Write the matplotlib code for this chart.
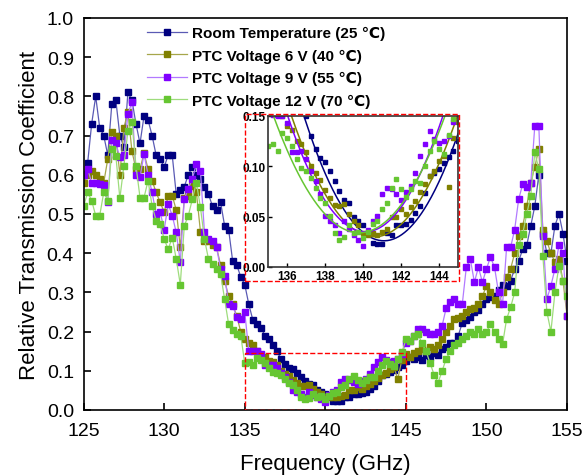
import numpy as np
import matplotlib.pyplot as plt
from matplotlib.patches import Rectangle

plt.rcParams['font.family'] = ['Liberation Sans', 'DejaVu Sans']

# frequency grid (GHz), 0.25 GHz step
freq = np.linspace(125, 155, 121)

room = [0.60, 0.63, 0.73, 0.80, 0.72, 0.70, 0.65, 0.78, 0.79, 0.70,
        0.67, 0.81, 0.79, 0.73, 0.68, 0.75, 0.74, 0.70, 0.65, 0.64,
        0.62, 0.65, 0.65, 0.55, 0.56, 0.57, 0.60, 0.62, 0.60, 0.59,
        0.57, 0.55, 0.52, 0.51, 0.53, 0.47, 0.46, 0.38, 0.37, 0.34,
        0.32, 0.27, 0.23, 0.22, 0.21, 0.19, 0.18, 0.165, 0.15, 0.13,
        0.117, 0.108, 0.104, 0.095, 0.085, 0.075, 0.067, 0.064, 0.05, 0.046,
        0.042, 0.035, 0.024, 0.023, 0.023, 0.034, 0.032, 0.042, 0.042, 0.043,
        0.047, 0.054, 0.061, 0.073, 0.09, 0.093, 0.097, 0.103, 0.109, 0.115,
        0.125, 0.134, 0.13, 0.135, 0.128, 0.14, 0.135, 0.145, 0.14, 0.155,
        0.16, 0.172, 0.17, 0.19, 0.222, 0.23, 0.237, 0.25, 0.255, 0.27,
        0.283, 0.288, 0.29, 0.305, 0.32, 0.317, 0.33, 0.36, 0.38, 0.41,
        0.42, 0.47, 0.52, 0.60, 0.45, 0.40, 0.40, 0.47, 0.50, 0.45,
        0.38]

ptc6 = [0.58, 0.60, 0.61, 0.60, 0.59, 0.58, 0.64, 0.71, 0.70, 0.60,
        0.72, 0.76, 0.66, 0.615, 0.615, 0.655, 0.615, 0.585, 0.555, 0.53,
        0.505, 0.545, 0.547, 0.51, 0.415, 0.54, 0.547, 0.572, 0.555, 0.455,
        0.43, 0.43, 0.42, 0.415, 0.37, 0.33, 0.29, 0.27, 0.24, 0.20,
        0.18, 0.172, 0.165, 0.15, 0.14, 0.136, 0.125, 0.122, 0.114, 0.10,
        0.093, 0.086, 0.076, 0.069, 0.062, 0.061, 0.0625, 0.053, 0.046, 0.042,
        0.034, 0.032, 0.034, 0.032, 0.035, 0.038, 0.05, 0.05, 0.058, 0.053,
        0.06, 0.066, 0.074, 0.082, 0.09, 0.095, 0.105, 0.11, 0.079, 0.128,
        0.144, 0.135, 0.145, 0.15, 0.156, 0.15, 0.16, 0.155, 0.165, 0.18,
        0.20, 0.215, 0.232, 0.235, 0.24, 0.25, 0.258, 0.26, 0.27, 0.29,
        0.317, 0.30, 0.28, 0.27, 0.30, 0.34, 0.36, 0.40, 0.445, 0.47,
        0.52, 0.58, 0.62, 0.666, 0.46, 0.43, 0.40, 0.377, 0.385, 0.33,
        0.24]

ptc9 = [0.60, 0.615, 0.58, 0.58, 0.577, 0.575, 0.53, 0.69, 0.68, 0.645,
        0.65, 0.755, 0.785, 0.60, 0.594, 0.653, 0.60, 0.555, 0.50, 0.505,
        0.46, 0.525, 0.496, 0.453, 0.377, 0.538, 0.565, 0.59, 0.628, 0.61,
        0.453, 0.436, 0.432, 0.415, 0.36, 0.343, 0.27, 0.266, 0.237, 0.232,
        0.25, 0.151, 0.15, 0.15, 0.143, 0.114, 0.114, 0.115, 0.107, 0.095,
        0.085, 0.072, 0.051, 0.046, 0.042, 0.034, 0.046, 0.038, 0.032, 0.027,
        0.021, 0.037, 0.046, 0.051, 0.072, 0.078, 0.077, 0.072, 0.067, 0.074,
        0.08, 0.093, 0.11, 0.122, 0.135, 0.127, 0.123, 0.125, 0.13, 0.144,
        0.17, 0.175, 0.19, 0.207, 0.207, 0.20, 0.195, 0.194, 0.20, 0.215,
        0.26, 0.275, 0.283, 0.27, 0.27, 0.364, 0.385, 0.326, 0.364, 0.326,
        0.36, 0.39, 0.364, 0.30, 0.27, 0.415, 0.415, 0.46, 0.538, 0.576,
        0.57, 0.58, 0.725, 0.725, 0.445, 0.283, 0.317, 0.36, 0.42, 0.40,
        0.24]

ptc12 = [0.52, 0.555, 0.534, 0.496, 0.496, 0.555, 0.534, 0.666, 0.649, 0.54,
         0.623, 0.712, 0.734, 0.623, 0.542, 0.542, 0.585, 0.521, 0.483, 0.474,
         0.436, 0.41, 0.44, 0.385, 0.32, 0.47, 0.496, 0.538, 0.58, 0.517,
         0.436, 0.385, 0.372, 0.36, 0.347, 0.283, 0.219, 0.205, 0.195, 0.19,
         0.12, 0.122, 0.115, 0.133, 0.128, 0.12, 0.107, 0.098, 0.095, 0.088,
         0.078, 0.069, 0.064, 0.051, 0.034, 0.027, 0.03, 0.042, 0.034, 0.035,
         0.029, 0.035, 0.043, 0.046, 0.058, 0.064, 0.078, 0.087, 0.077, 0.07,
         0.077, 0.085, 0.083, 0.10, 0.115, 0.125, 0.117, 0.112, 0.131, 0.147,
         0.18, 0.177, 0.19, 0.194, 0.17, 0.15, 0.12, 0.09, 0.07, 0.10,
         0.13, 0.15, 0.165, 0.17, 0.18, 0.19, 0.20, 0.195, 0.207, 0.194,
         0.198, 0.22, 0.198, 0.18, 0.168, 0.232, 0.262, 0.30, 0.42, 0.45,
         0.50, 0.547, 0.657, 0.615, 0.394, 0.25, 0.20, 0.30, 0.368, 0.33,
         0.29]

labels = ['Room Temperature (25 \u2103)', 'PTC Voltage 6 V (40 \u2103)',
          'PTC Voltage 9 V (55 \u2103)', 'PTC Voltage 12 V (70 \u2103)']
mark_colors = ['#000080', '#808000', '#8000ff', '#66c632']
line_colors = ['#5a5ab4', '#a6a64a', '#b27aff', '#9edc7c']

# parabola fits shown in the inset: centre (GHz), minimum, curvature
fit_center = [141.1, 140.6, 140.12, 139.8]
fit_min = [0.026, 0.030, 0.035, 0.034]
fit_curv = [0.0070, 0.0063, 0.0069, 0.0057]

series = [room, ptc6, ptc9, ptc12]

fig = plt.figure(figsize=(5.83, 4.77), dpi=100)
ax = fig.add_axes([0.1434, 0.1384, 0.8292, 0.8218])

for vals, mc, lc, lab in zip(series, mark_colors, line_colors, labels):
    ax.plot(freq, vals, '-s', color=lc, mfc=mc, mec=mc, ms=4.3, lw=0.9, label=lab)

ax.set_xlim(125, 155)
ax.set_ylim(0, 1.0)
ax.set_xticks(np.arange(125, 156, 5))
ax.set_yticks(np.arange(0, 1.01, 0.1))
ax.yaxis.set_major_formatter(plt.FormatStrFormatter('%.1f'))
ax.tick_params(direction='in', length=5, width=1.2, labelsize=14)
ax.tick_params(axis='x', pad=9)
ax.tick_params(axis='y', pad=7)
for sp in ax.spines.values():
    sp.set_linewidth(1.2)
ax.set_xlabel('Frequency (GHz)', fontsize=16, labelpad=10)
ax.set_ylabel('Relative Transmission Coefficient', fontsize=16, labelpad=5)

ax.add_patch(Rectangle((135, 0), 10, 0.145, fill=False, ec='red', ls='--', lw=1.0, zorder=5))

leg = ax.legend(loc='upper left', bbox_to_anchor=(0.103, 1.015), frameon=False,
                prop={'weight': 'bold', 'size': 11}, handlelength=2.6,
                handletextpad=0.35, labelspacing=0.55)

# inset
axin = fig.add_axes([0.4597, 0.4382, 0.326, 0.3166])
xs = np.linspace(135, 145, 200)
for vals, mc, c0, vm, a in zip(series, mark_colors, fit_center, fit_min, fit_curv):
    v = np.array(vals)
    m = (freq >= 135) & (freq <= 145)
    axin.plot(freq[m], v[m], 's', color=mc, ms=2.8, ls='none')
    axin.plot(xs, vm + a * (xs - c0) ** 2, color=mc, lw=1.1)
axin.set_xlim(135, 145)
axin.set_ylim(0, 0.15)
axin.set_xticks([136, 138, 140, 142, 144])
axin.set_yticks([0, 0.05, 0.10, 0.15])
axin.yaxis.set_major_formatter(plt.FormatStrFormatter('%.2f'))
axin.tick_params(direction='in', length=3, width=1, labelsize=8.5, pad=2)
for t in axin.get_xticklabels() + axin.get_yticklabels():
    t.set_fontweight('bold')
for sp in axin.spines.values():
    sp.set_linewidth(1.2)
    sp.set_color('#333333')

fig.add_artist(Rectangle((245 / 583, 1 - 282 / 477), 214 / 583, 167 / 477,
                         transform=fig.transFigure, fill=False, ec='red',
                         ls='--', lw=1.0))

fig.savefig('out.png', dpi=100)
